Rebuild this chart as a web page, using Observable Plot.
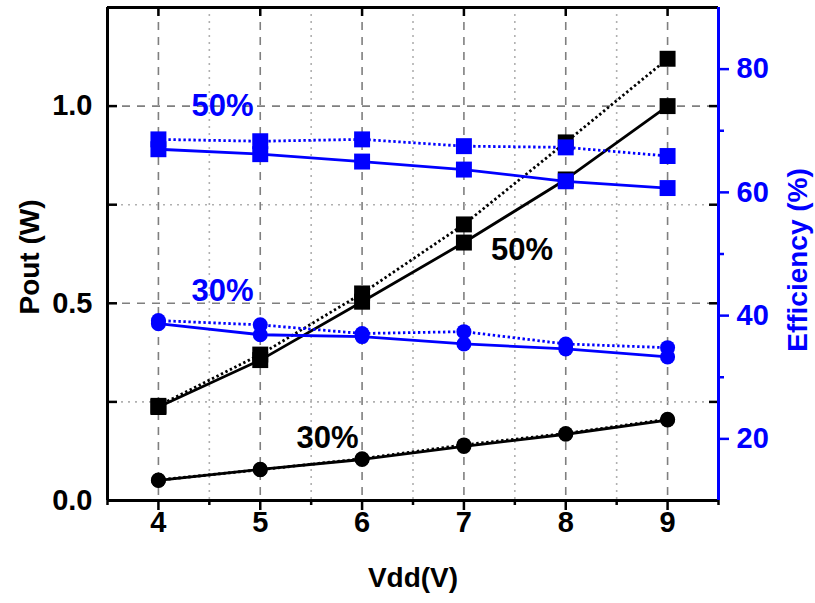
<!DOCTYPE html>
<html>
<head>
<meta charset="utf-8">
<script src="https://cdn.jsdelivr.net/npm/d3@7"></script>
<script src="https://cdn.jsdelivr.net/npm/@observablehq/plot@0.6"></script>
<style>
  html, body { margin: 0; padding: 0; background: #fff; }
</style>
</head>
<body>
<div id="chart"></div>
<script>
// Supply voltage sweep (V)
const vdd = [4, 5, 6, 7, 8, 9];

// Output power (W), 50% and 30% cases, solid and dotted curves
const pout50Solid  = [0.237, 0.356, 0.504, 0.654, 0.814, 1.000];
const pout50Dotted = [0.240, 0.370, 0.525, 0.700, 0.908, 1.120];
const pout30Solid  = [0.051, 0.079, 0.104, 0.137, 0.168, 0.204];
const pout30Dotted = [0.052, 0.078, 0.106, 0.141, 0.170, 0.206];

// Efficiency (%), 50% and 30% cases, solid and dotted curves
const eff50Solid  = [67.0, 66.2, 65.0, 63.7, 61.8, 60.7];
const eff50Dotted = [68.6, 68.3, 68.6, 67.5, 67.3, 65.9];
const eff30Solid  = [38.7, 36.9, 36.6, 35.4, 34.6, 33.3];
const eff30Dotted = [39.2, 38.5, 37.1, 37.4, 35.4, 34.8];

// Axis ticks
const xTicks = [4, 5, 6, 7, 8, 9];
const xMinorTicks = [3.5, 4.5, 5.5, 6.5, 7.5, 8.5, 9.5];
const poutTicks = [0.0, 0.5, 1.0];
const poutMinorTicks = [0.25, 0.75];
const effTicks = [20, 40, 60, 80];
const effMinorTicks = [30, 50, 70];

const xDomain = [3.5, 9.5];
const poutDomain = [0, 1.25];
const effDomain = [10, 90];

// The efficiency axis shares the plot's y scale through a linear map
const effToPout = d3.scaleLinear().domain(effDomain).range(poutDomain);

const BLUE = "#0000ff";
const GRID = "#7f7f7f";
const FONT = "'Liberation Sans', Arial, sans-serif";
const TICK_FONT = 29;
const TITLE_FONT = 28;
const noLabel = () => "";

function rows(values, toY = (v) => v) {
  return vdd.map((x, i) => ({x, y: toY(values[i])}));
}

const series = [
  {values: pout50Dotted, eff: false, symbol: "square", dotted: true},
  {values: pout50Solid,  eff: false, symbol: "square", dotted: false},
  {values: pout30Dotted, eff: false, symbol: "circle", dotted: true},
  {values: pout30Solid,  eff: false, symbol: "circle", dotted: false},
  {values: eff50Dotted,  eff: true,  symbol: "square", dotted: true},
  {values: eff50Solid,   eff: true,  symbol: "square", dotted: false},
  {values: eff30Dotted,  eff: true,  symbol: "circle", dotted: true},
  {values: eff30Solid,   eff: true,  symbol: "circle", dotted: false}
];

const seriesMarks = series.flatMap((s) => {
  const data = rows(s.values, s.eff ? effToPout : undefined);
  const color = s.eff ? BLUE : "#000";
  return [
    Plot.line(data, {
      x: "x", y: "y", stroke: color, strokeWidth: 2.8,
      strokeLinecap: s.dotted ? "butt" : "round",
      strokeDasharray: s.dotted ? "2.4,2.6" : null
    }),
    Plot.dot(data, {
      x: "x", y: "y", symbol: s.symbol, r: s.symbol === "square" ? 9 : 7.5,
      fill: color, stroke: "none"
    })
  ];
});

const labelStyle = {fontSize: 31, fontWeight: "bold", fontFamily: FONT};

const chart = Plot.plot({
  width: 815,
  height: 603,
  marginLeft: 107,
  marginRight: 97,
  marginTop: 7,
  marginBottom: 103,
  style: {fontFamily: FONT, fontWeight: "bold", background: "#fff", color: "#000"},
  x: {domain: xDomain},
  y: {domain: poutDomain},
  marks: [
    // grid
    Plot.gridX(xTicks, {stroke: GRID, strokeOpacity: 1, strokeWidth: 1.6, strokeDasharray: "8,7"}),
    Plot.gridX(xMinorTicks.slice(1, -1), {stroke: "#b0b0b0", strokeOpacity: 1, strokeWidth: 1.6, strokeDasharray: "2,5"}),
    Plot.gridY([0.5, 1.0], {stroke: GRID, strokeOpacity: 1, strokeWidth: 1.6, strokeDasharray: "8,7"}),
    Plot.gridY(poutMinorTicks, {stroke: "#b0b0b0", strokeOpacity: 1, strokeWidth: 1.6, strokeDasharray: "2,5"}),

    // bottom axis
    Plot.axisX(xTicks, {anchor: "bottom", tickSize: 10, tickPadding: 1, fontSize: TICK_FONT, fontWeight: "bold", strokeWidth: 2.5, label: null, tickFormat: d3.format("d")}),
    Plot.axisX(xMinorTicks, {anchor: "bottom", tickSize: 5, strokeWidth: 2.5, tickFormat: noLabel, label: null}),
    // top inward ticks
    Plot.axisX(xTicks, {anchor: "top", tickSize: -8, strokeWidth: 2.5, tickFormat: noLabel, label: null}),

    // left axis (inward ticks)
    Plot.axisY(poutTicks, {anchor: "left", tickSize: -10, tickPadding: 25, fontSize: TICK_FONT, fontWeight: "bold", strokeWidth: 2.5, label: null, tickFormat: d3.format(".1f")}),
    Plot.axisY(poutMinorTicks, {anchor: "left", tickSize: -10, strokeWidth: 2.5, tickFormat: noLabel, label: null}),
    // mirrored inward ticks of the power axis on the right edge
    Plot.axisY([...poutTicks, ...poutMinorTicks], {anchor: "right", tickSize: -10, strokeWidth: 2.5, tickFormat: noLabel, label: null}),

    // right efficiency axis
    Plot.axisY(effTicks.map(effToPout), {anchor: "right", tickSize: 10, tickPadding: 8, fontSize: TICK_FONT, fontWeight: "bold", stroke: BLUE, fill: BLUE, strokeWidth: 2.5, label: null, tickFormat: (d) => d3.format("d")(effToPout.invert(d))}),
    Plot.axisY(effMinorTicks.map(effToPout), {anchor: "right", tickSize: 5, stroke: BLUE, strokeWidth: 2.5, tickFormat: noLabel, label: null}),

    // frame
    Plot.ruleY([poutDomain[0]], {stroke: "#000", strokeWidth: 3}),
    Plot.ruleY([poutDomain[1]], {stroke: "#000", strokeWidth: 3}),
    Plot.ruleX([xDomain[0]], {stroke: "#000", strokeWidth: 3}),
    Plot.ruleX([xDomain[1]], {stroke: BLUE, strokeWidth: 3}),

    // data
    ...seriesMarks,

    // curve annotations
    Plot.text(["50%"], {x: 4.63, y: 1.0, fill: BLUE, ...labelStyle}),
    Plot.text(["30%"], {x: 4.63, y: 0.53, fill: BLUE, ...labelStyle}),
    Plot.text(["50%"], {x: 7.57, y: 0.636, fill: "#000", ...labelStyle}),
    Plot.text(["30%"], {x: 5.66, y: 0.158, fill: "#000", ...labelStyle}),

    // axis titles
    Plot.text(["Pout (W)"], {frameAnchor: "left", textAnchor: "middle", dx: -77, dy: 3, rotate: -90, fontSize: TITLE_FONT, fontWeight: "bold", fill: "#000"}),
    Plot.text(["Efficiency (%)"], {frameAnchor: "right", textAnchor: "middle", dx: 80, dy: 6, rotate: -90, fontSize: TITLE_FONT, fontWeight: "bold", fill: BLUE}),
    Plot.text(["Vdd(V)"], {frameAnchor: "bottom", dy: 86, fontSize: TITLE_FONT, fontWeight: "bold", fill: "#000"})
  ]
});

document.getElementById("chart").appendChild(chart);
</script>
</body>
</html>
